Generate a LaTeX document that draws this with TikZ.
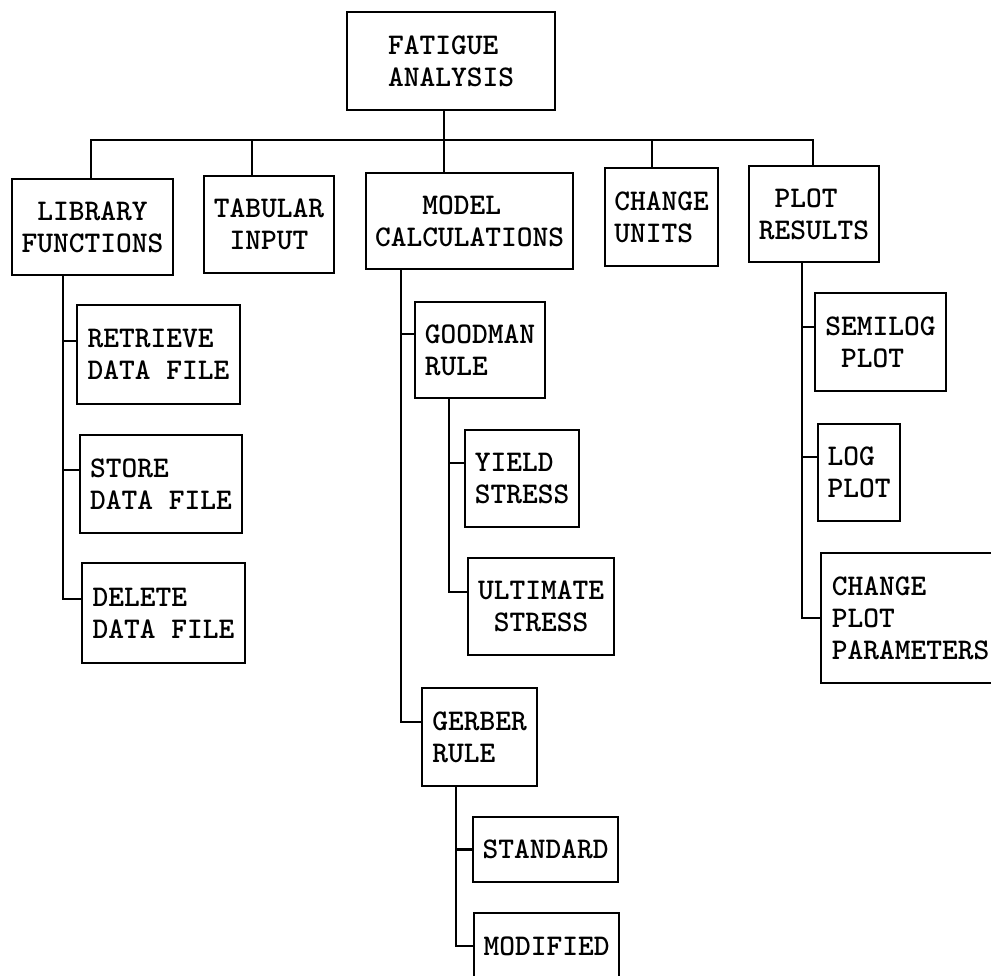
\documentclass[tikz,border=0pt]{standalone}
\usepackage{fontspec}
\setmonofont{lmmonolt10-bold.otf}
\newcommand\ind{\hphantom{X}}
\begin{document}
\begin{tikzpicture}[x=1pt,y=-1pt,
  box/.style={draw, line width=2.2pt, inner sep=0pt, outer sep=0pt,
    align=left, anchor=north west,
    font=\ttfamily\fontsize{30}{32}\selectfont},
  wire/.style={line width=2.2pt, line join=miter}]
\clip (0,0) rectangle (991,976);
\fill[white] (0,0) rectangle (991,976);

% top level
\node[box, minimum width=208pt, minimum height=98pt] (fat) at (347,12) {FATIGUE\\ANALYSIS};

% second level
\node[box, minimum width=161pt, minimum height=96pt] (lib) at (12,179) {\ind LIBRARY\\FUNCTIONS};
\node[box, minimum width=130pt, minimum height=97pt] (tab) at (204,176) {TABULAR\\\ind INPUT};
\node[box, minimum width=207pt, minimum height=96pt] (mod) at (366,173) {\ind\ind\ind MODEL\\CALCULATIONS};
\node[box, minimum width=113pt, minimum height=98pt] (chg) at (605,168) {CHANGE\\UNITS};
\node[box, minimum width=130pt, minimum height=96pt] (plt) at (749,166) {\ind PLOT\\RESULTS};

% library functions
\node[box, minimum width=163pt, minimum height=99pt] (ret) at (77,305) {RETRIEVE\\DATA FILE};
\node[box, minimum width=162pt, minimum height=98pt] (sto) at (80,435) {STORE\\DATA FILE};
\node[box, minimum width=163pt, minimum height=100pt] (del) at (82,563) {DELETE\\DATA FILE};

% model calculations
\node[box, minimum width=130pt, minimum height=96pt] (good) at (415,302) {GOODMAN\\RULE};
\node[box, minimum width=114pt, minimum height=97pt] (yld) at (465,430) {YIELD\\STRESS};
\node[box, minimum width=146pt, minimum height=97pt] (ult) at (468,558) {ULTIMATE\\\ind STRESS};
\node[box, minimum width=115pt, minimum height=98pt] (ger) at (422,688) {GERBER\\RULE};
\node[box, minimum width=145pt, minimum height=65pt] (std) at (473,817) {STANDARD};
\node[box, minimum width=145pt, minimum height=66pt] (modf) at (474,913) {MODIFIED};

% plot results
\node[box, minimum width=131pt, minimum height=98pt] (sem) at (815,293) {SEMILOG\\\ind PLOT};
\node[box, minimum width=82pt, minimum height=97pt] (log) at (818,424) {LOG\\PLOT};
\node[box, minimum width=179pt, minimum height=130pt] (cpp) at (821,553) {CHANGE\\PLOT\\PARAMETERS};

% bus below the top box
\coordinate (sFat) at ([xshift=-7pt]fat.south);
\coordinate (bus) at ([yshift=-30pt]sFat);
\coordinate (sLib) at ([xshift=-1.5pt]lib.north);
\coordinate (sTab) at ([xshift=-17pt]tab.north);
\coordinate (sMod) at ([xshift=-25.5pt]mod.north);
\coordinate (sChg) at ([xshift=-9.5pt]chg.north);
\coordinate (sPlt) at ([xshift=-1pt]plt.north);
\draw[wire] (sFat) -- (bus);
\draw[wire] (sLib) |- (sPlt |- bus) -- (sPlt);
\draw[wire] (sTab) -- (sTab |- bus);
\draw[wire] (sMod) -- (sMod |- bus);
\draw[wire] (sChg) -- (sChg |- bus);

% library branch
\coordinate (tLib) at ([xshift=-29.5pt]lib.south);
\coordinate (kRet) at ([yshift=13.5pt]ret.west);
\coordinate (kSto) at ([yshift=14pt]sto.west);
\coordinate (kDel) at ([yshift=14pt]del.west);
\draw[wire] (tLib) |- (kDel);
\draw[wire] (kRet) -- (kRet -| tLib);
\draw[wire] (kSto) -- (kSto -| tLib);

% model branch
\coordinate (tMod) at ([xshift=-68.5pt]mod.south);
\coordinate (kGood) at ([yshift=16pt]good.west);
\coordinate (kGer) at ([yshift=15pt]ger.west);
\draw[wire] (tMod) |- (kGer);
\draw[wire] (kGood) -- (kGood -| tMod);

% goodman branch
\coordinate (tGood) at ([xshift=-31pt]good.south);
\coordinate (kYld) at ([yshift=15.5pt]yld.west);
\coordinate (kUlt) at ([yshift=14.5pt]ult.west);
\draw[wire] (tGood) |- (kUlt);
\draw[wire] (kYld) -- (kYld -| tGood);

% gerber branch
\coordinate (tGer) at ([xshift=-23.5pt]ger.south);
\draw[wire] (tGer) |- (modf.west);
\draw[wire] (std.west) -- (std.west -| tGer);

% plot branch
\coordinate (tPlt) at ([xshift=-12pt]plt.south);
\coordinate (kSem) at ([yshift=15pt]sem.west);
\coordinate (kLog) at ([yshift=15.5pt]log.west);
\draw[wire] (tPlt) |- (cpp.west);
\draw[wire] (kSem) -- (kSem -| tPlt);
\draw[wire] (kLog) -- (kLog -| tPlt);
\end{tikzpicture}
\end{document}
